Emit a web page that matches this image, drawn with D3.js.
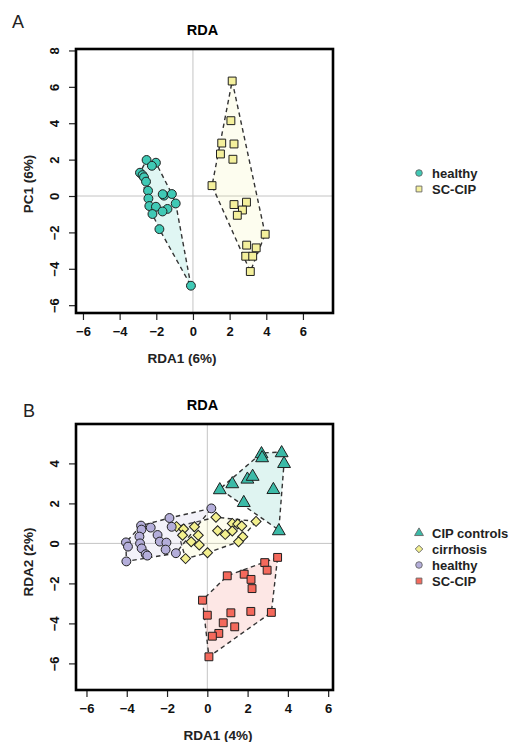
<!DOCTYPE html>
<html>
<head>
<meta charset="utf-8">
<script src="https://cdn.jsdelivr.net/npm/d3@7"></script>
<style>
  body { margin: 0; background: #fff; }
  svg text { font-family: "Liberation Sans", Arial, sans-serif; }
</style>
</head>
<body>
<svg id="chart" width="510" height="742"></svg>
<script>
// ---- data ----
// panel A: x = RDA1, y = PC1
const aHealthy = [
  [-2.53, 1.98], [-2.02, 1.83], [-2.24, 1.66], [-2.89, 1.28], [-2.75, 1.15],
  [-2.67, 1.03], [-2.56, 0.79], [-2.45, 0.29], [-2.43, -0.14], [-2.38, -0.55],
  [-2.02, -0.59], [-2.21, -0.99], [-1.58, 0.02], [-1.65, 0.10], [-1.15, 0.11],
  [-0.94, -0.41], [-1.39, -0.71], [-1.66, -0.85], [-1.83, -1.82], [-0.11, -4.93]
];
const aScCip = [
  [2.14, 6.32], [2.07, 4.14], [1.57, 2.91], [2.24, 2.86], [1.50, 2.31],
  [2.18, 2.02], [1.04, 0.57], [2.24, -0.47], [2.92, -0.34], [2.70, -0.77],
  [2.42, -1.06], [3.94, -2.10], [2.93, -2.70], [3.45, -2.85], [2.88, -3.31],
  [3.26, -3.31], [3.13, -4.15]
];
// panel B: x = RDA1, y = RDA2
const bCipControls = [
  [2.69, 4.52], [2.72, 4.32], [3.69, 4.57], [3.81, 4.03], [0.62, 2.72],
  [1.24, 3.02], [1.99, 3.25], [2.25, 3.39], [3.28, 2.73], [1.81, 2.08],
  [3.55, 0.67]
];
const bCirrhosis = [
  [0.43, 1.31], [-1.53, 0.84], [-1.18, 0.72], [-0.64, 0.83], [-1.23, 0.41],
  [-0.45, 0.41], [-0.80, 0.08], [-0.40, -0.08], [0.51, 0.63], [0.89, 0.45],
  [1.24, 1.00], [1.51, 0.97], [1.71, 0.87], [1.24, 0.62], [1.76, 0.33],
  [1.55, 0.08], [2.42, 1.10], [0.01, -0.47], [-1.08, -0.76]
];
const bHealthy = [
  [0.20, 1.75], [-1.88, 1.27], [-1.77, 0.83], [-3.29, 0.89], [-3.27, 0.69],
  [-2.81, 0.79], [-2.47, 0.42], [-3.37, 0.34], [-4.04, 0.05], [-3.94, -0.16],
  [-3.34, 0.00], [-3.26, -0.25], [-3.06, -0.54], [-2.98, -0.61], [-2.36, 0.09],
  [-2.03, 0.04], [-2.07, -0.31], [-1.56, -0.49], [-4.02, -0.90]
];
const bScCip = [
  [3.49, -0.70], [2.85, -0.96], [2.97, -1.34], [0.99, -1.62], [1.83, -1.54],
  [2.17, -1.80], [2.22, -2.26], [-0.24, -2.84], [0.00, -3.59], [1.17, -3.47],
  [2.16, -3.40], [3.18, -3.45], [0.79, -3.97], [1.36, -4.17], [0.57, -4.50],
  [0.25, -4.64], [0.08, -5.67]
];
const xTicks = [-6, -4, -2, 0, 2, 4, 6];
const yTicksA = [-6, -4, -2, 0, 2, 4, 6, 8];
const yTicksB = [-6, -4, -2, 0, 2, 4];

const panels = [
  {
    letter: "A", letterPos: [12, 28], title: "RDA",
    box: {x0: 76, x1: 333, y0: 49, y1: 313},
    xDomain: [-6.38, 7.64], yDomain: [-6.43, 8.08],
    xTicks: xTicks, yTicks: yTicksA,
    xLabel: "RDA1 (6%)", xLabelX: 182, yLabel: "PC1 (6%)", yLabelY: 184,
    legendY: 173,
    groups: [
      {name: "healthy", pts: aHealthy, shape: "circle", color: "#3fc9b5"},
      {name: "SC-CIP", pts: aScCip, shape: "square", color: "#f4f09c"}
    ]
  },
  {
    letter: "B", letterPos: [23, 417], title: "RDA",
    box: {x0: 76, x1: 333, y0: 424, y1: 690},
    xDomain: [-6.52, 6.24], yDomain: [-7.33, 5.97],
    xTicks: xTicks, yTicks: yTicksB,
    xLabel: "RDA1 (4%)", xLabelX: 218, yLabel: "RDA2 (2%)", yLabelY: 562,
    legendY: 533,
    groups: [
      {name: "CIP controls", pts: bCipControls, shape: "triangle", color: "#3bbaa7"},
      {name: "cirrhosis", pts: bCirrhosis, shape: "diamond", color: "#f3f08e"},
      {name: "healthy", pts: bHealthy, shape: "circle", color: "#b4aeda"},
      {name: "SC-CIP", pts: bScCip, shape: "square", color: "#f4695c"}
    ]
  }
];

const svg = d3.select("#chart");

// diamond = square turned 45 degrees (like R's pch 23)
function symbolPath(shape, size) {
  const t = {circle: d3.symbolCircle, square: d3.symbolSquare,
             triangle: d3.symbolTriangle, diamond: d3.symbolSquare}[shape];
  return d3.symbol().type(t).size(size)();
}
function shapeTurn(shape) {
  if (shape === "diamond") return " rotate(45)";
  if (shape === "triangle") return " translate(0,1)";
  return "";
}
const markSize = {circle: 62, square: 62, triangle: 72, diamond: 50};

panels.forEach(function(p) {
  let b = p.box;
  let x = d3.scaleLinear().domain(p.xDomain).range([b.x0, b.x1]);
  let y = d3.scaleLinear().domain(p.yDomain).range([b.y1, b.y0]);
  let g = svg.append("g");

  // panel letter and title
  g.append("text").attr("x", p.letterPos[0]).attr("y", p.letterPos[1])
   .attr("font-size", 18).attr("fill", "#222").text(p.letter);
  g.append("text").attr("x", (b.x0 + b.x1) / 2 - 2).attr("y", b.y0 - 14)
   .attr("text-anchor", "middle").attr("font-size", 14.5).attr("font-weight", "bold")
   .text(p.title);

  // zero reference lines
  g.append("line").attr("x1", x(0)).attr("x2", x(0)).attr("y1", b.y0).attr("y2", b.y1)
   .attr("stroke", "#c4c4c4").attr("stroke-width", 1);
  g.append("line").attr("x1", b.x0).attr("x2", b.x1).attr("y1", y(0)).attr("y2", y(0))
   .attr("stroke", "#c4c4c4").attr("stroke-width", 1);

  // hulls
  p.groups.forEach(function(grp) {
    let hull = d3.polygonHull(grp.pts.map(d => [x(d[0]), y(d[1])]));
    g.append("path")
     .attr("d", "M" + hull.join("L") + "Z")
     .attr("fill", grp.color).attr("fill-opacity", 0.16)
     .attr("stroke", "#333").attr("stroke-width", 1.4)
     .attr("stroke-dasharray", "4.5,3.5");
  });

  // points
  p.groups.forEach(function(grp) {
    g.append("g").selectAll("path")
     .data(grp.pts)
     .enter()
     .append("path")
     .attr("d", symbolPath(grp.shape, markSize[grp.shape]))
     .attr("transform", d => "translate(" + x(d[0]) + "," + y(d[1]) + ")" + shapeTurn(grp.shape))
     .attr("fill", grp.color)
     .attr("stroke", "#1f1f1f").attr("stroke-width", 1);
  });

  // axes
  let xAxis = g.append("g").attr("transform", "translate(0," + b.y1 + ")")
   .call(d3.axisBottom(x).tickValues(p.xTicks).tickSize(7).tickSizeOuter(0).tickFormat(d3.format("d")));
  xAxis.select(".domain").remove();
  xAxis.selectAll("text").attr("y", 14).attr("font-size", 13).attr("font-weight", "bold")
   .attr("font-family", "Liberation Sans, Arial, sans-serif").attr("fill", "#111");
  xAxis.selectAll("line").attr("stroke", "#222").attr("stroke-width", 1.2);

  let yAxis = g.append("g").attr("transform", "translate(" + b.x0 + ",0)")
   .call(d3.axisLeft(y).tickValues(p.yTicks).tickSize(7).tickSizeOuter(0).tickFormat(d3.format("d")));
  yAxis.select(".domain").remove();
  yAxis.selectAll("text")
   .attr("x", null).attr("dy", null)
   .attr("transform", "translate(-17,0) rotate(-90)")
   .attr("text-anchor", "middle")
   .attr("font-size", 13).attr("font-weight", "bold")
   .attr("font-family", "Liberation Sans, Arial, sans-serif").attr("fill", "#111");
  yAxis.selectAll("line").attr("stroke", "#222").attr("stroke-width", 1.2);

  // frame
  g.append("rect").attr("x", b.x0).attr("y", b.y0)
   .attr("width", b.x1 - b.x0).attr("height", b.y1 - b.y0)
   .attr("fill", "none").attr("stroke", "#000").attr("stroke-width", 2.6);

  // axis titles
  g.append("text").attr("x", p.xLabelX).attr("y", b.y1 + 50)
   .attr("text-anchor", "middle").attr("font-size", 13.5).attr("font-weight", "bold")
   .attr("fill", "#222").text(p.xLabel);
  g.append("text").attr("transform", "translate(33," + p.yLabelY + ") rotate(-90)")
   .attr("text-anchor", "middle").attr("font-size", 13.5).attr("font-weight", "bold")
   .attr("fill", "#222").text(p.yLabel);

  // legend
  let lg = g.append("g").attr("transform", "translate(419," + p.legendY + ")");
  let items = lg.selectAll("g").data(p.groups).enter().append("g")
   .attr("transform", (d, i) => "translate(0," + (i * 16) + ")");
  items.append("path")
   .attr("d", d => symbolPath(d.shape, d.shape === "diamond" ? 28 : 34))
   .attr("transform", d => d.shape === "diamond" ? "rotate(45)" : null)
   .attr("fill", d => d.color).attr("stroke", "#666").attr("stroke-width", 0.9);
  items.append("text").attr("x", 13).attr("y", 4.5)
   .attr("font-size", 13).attr("font-weight", "bold").attr("fill", "#222")
   .text(d => d.name);
});
</script>
</body>
</html>
